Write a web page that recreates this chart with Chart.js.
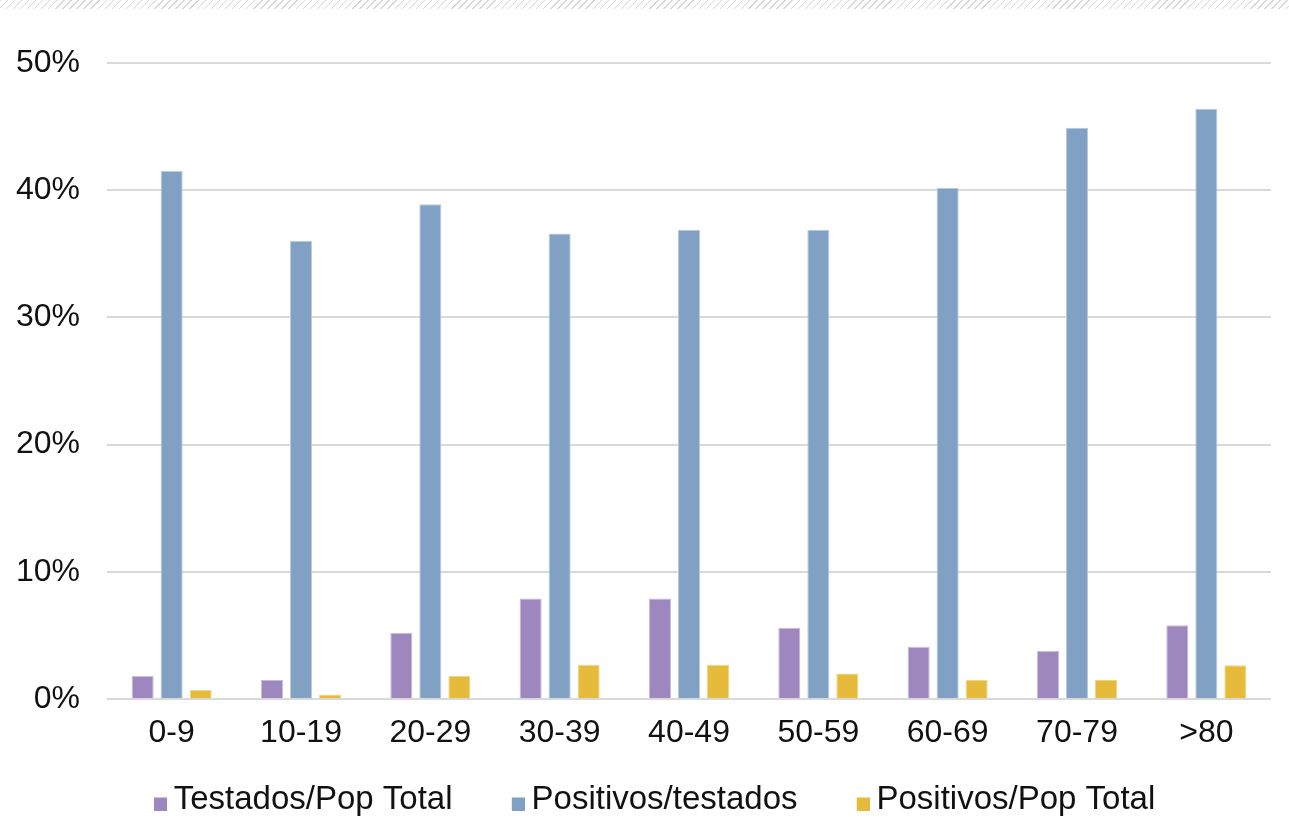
<!DOCTYPE html>
<html>
<head>
<meta charset="utf-8">
<script src="https://cdn.jsdelivr.net/npm/chart.js@4/dist/chart.umd.min.js"></script>
<style>
  html, body { margin: 0; padding: 0; background: #fff; }
  #wrap { position: relative; width: 1289px; height: 837px; }
  #hatch { position: absolute; left: 0; top: 0; width: 1289px; height: 9px;
    background: repeating-linear-gradient(135deg, #d6d6d6 0 1px, #fff 1px 5px); }
  canvas { display: block; }
</style>
</head>
<body>
<div id="wrap">
  <canvas id="c" width="1289" height="837"></canvas>
  <div id="hatch"></div>
</div>
<script>
const categories = ['0-9', '10-19', '20-29', '30-39', '40-49', '50-59', '60-69', '70-79', '>80'];
const testadosPop = [1.8, 1.5, 5.2, 7.9, 7.9, 5.6, 4.1, 3.8, 5.8];
const positivosTestados = [41.5, 36.0, 38.9, 36.6, 36.9, 36.9, 40.2, 44.9, 46.4];
const positivosPop = [0.7, 0.35, 1.8, 2.7, 2.7, 2.0, 1.5, 1.5, 2.65];
const seriesNames = ['Testados/Pop Total', 'Positivos/testados', 'Positivos/Pop Total'];
const seriesColors = ['#9D87BE', '#80A0C4', '#E6BA3A'];
const seriesEdges = ['#C9BEDC', '#B9CBE0', '#F0D68A'];
const yTicks = [0, 10, 20, 30, 40, 50];

Chart.defaults.font.family = "'Liberation Sans', Arial, sans-serif";
Chart.defaults.font.size = 32;
Chart.defaults.color = '#111111';

// legend marker: a 13px square placed at the right/bottom of a transparent sprite
const PSW = 31.5;
function legendMarker(color) {
  const cv = document.createElement('canvas');
  cv.width = 51; cv.height = 22;
  const g = cv.getContext('2d');
  g.fillStyle = color;
  g.fillRect(cv.width - 13, cv.height - 13, 13, 13);
  return cv;
}
const markers = seriesColors.map(legendMarker);

new Chart(document.getElementById('c'), {
  type: 'bar',
  data: {
    labels: categories,
    datasets: [
      { label: seriesNames[0], data: testadosPop, backgroundColor: seriesColors[0], borderColor: seriesEdges[0], borderWidth: 1 },
      { label: seriesNames[1], data: positivosTestados, backgroundColor: seriesColors[1], borderColor: seriesEdges[1], borderWidth: 1 },
      { label: seriesNames[2], data: positivosPop, backgroundColor: seriesColors[2], borderColor: seriesEdges[2], borderWidth: 1 }
    ]
  },
  options: {
    responsive: false,
    animation: false,
    devicePixelRatio: 1,
    layout: { padding: { left: 10, right: 18, top: 63, bottom: 11 } },
    datasets: { bar: { categoryPercentage: 0.673, barPercentage: 0.76 } },
    scales: {
      x: {
        grid: { display: false, drawTicks: false },
        border: { display: false },
        ticks: { padding: 15, color: '#111111' },
        afterFit: (s) => { s.height = 53; }
      },
      y: {
        min: 0, max: 50,
        afterBuildTicks: (s) => { s.ticks = yTicks.map(v => ({ value: v })); },
        grid: { color: '#D9D9D9', lineWidth: 2, drawTicks: false },
        border: { display: false },
        ticks: { padding: 27, color: '#111111', callback: (v) => v + '%' },
        afterFit: (s) => { s.width = 97; }
      }
    },
    plugins: {
      legend: {
        position: 'bottom',
        labels: {
          usePointStyle: true,
          pointStyleWidth: PSW,
          boxHeight: 13,
          padding: 31,
          font: { size: 33 },
          color: '#111111',
          generateLabels: (chart) => {
            const items = Chart.defaults.plugins.legend.labels.generateLabels(chart);
            items.forEach((it, i) => { it.pointStyle = markers[i]; it.lineWidth = 0; });
            return items;
          }
        }
      },
      tooltip: { enabled: false }
    }
  }
});
</script>
</body>
</html>
